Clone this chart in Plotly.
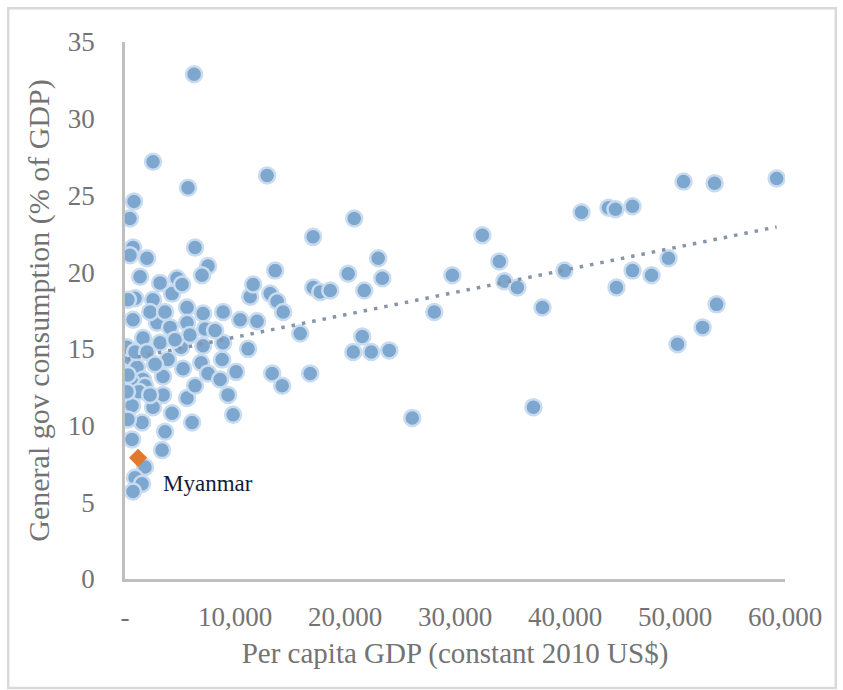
import numpy as np
import plotly.graph_objects as go

# Per capita GDP (constant 2010 US$) and general government consumption (% of GDP)
gdp_per_capita = [
    6280, 2550, 12920, 5730, 820, 450, 17100, 730, 6370, 2000,
    450, 7550, 7000, 1370, 3190, 4730, 4280, 5190, 910, 2550,
    5640, 7100, 8920, 730, 2910, 4100, 5640, 1640, 7280, 10470,
    12010, 11380, 11650, 13650, 13200, 13830, 14380, 17110, 17750, 15930,
    3190, 5100, 7100, 8920, 11190, 3910, 450, 1090, 6920, 8830,
    5280, 1640, 3460, 10100, 7550, 13380, 14290, 16840, 640, 1820,
    3460, 5640, 9370, 640, 2550, 1550, 4280, 6100, 9830, 3640,
    640, 3370, 1820, 910, 1550, 730,
    180, 910, 270, 1270, 180, 2280, 3640, 2000, 5900, 4550,
    2730, 6370, 2280, 8190, 8650, 270, 270,
    20840, 23020, 20290, 23390, 21750, 21570, 20750, 22390, 24020, 18660,
    28120, 29760, 26120, 32490, 34030, 34490, 35670, 37950, 37130, 39950,
    41500, 43950, 44590, 46140, 44680, 46140, 47870, 49410, 50780, 53600,
    59240, 53780, 52510, 50230,
]
gov_consumption = [
    32.9, 27.2, 26.3, 25.5, 24.6, 23.5, 22.3, 21.6, 21.6, 20.9,
    21.1, 20.4, 19.8, 19.7, 19.3, 19.6, 18.6, 19.2, 18.3, 18.2,
    17.7, 17.3, 17.4, 16.9, 16.7, 16.4, 16.7, 15.7, 16.3, 16.9,
    16.8, 18.4, 19.2, 20.1, 18.6, 18.1, 17.4, 19.0, 18.7, 16.0,
    15.4, 15.1, 15.2, 15.4, 15.0, 14.3, 14.4, 13.8, 14.1, 14.3,
    13.7, 13.0, 13.2, 13.5, 13.4, 13.4, 12.6, 13.4, 12.8, 12.6,
    12.0, 11.8, 12.0, 11.3, 11.2, 10.2, 10.8, 10.2, 10.7, 9.6,
    9.1, 8.4, 7.3, 6.6, 6.2, 5.7,
    15.1, 14.8, 13.3, 12.2, 12.2, 17.4, 17.4, 14.8, 15.9, 15.6,
    14.0, 12.6, 12.0, 16.2, 13.0, 18.2, 10.4,
    23.5, 20.9, 19.9, 19.6, 18.8, 15.8, 14.8, 14.8, 14.9, 18.8,
    17.4, 19.8, 10.5, 22.4, 20.7, 19.4, 19.0, 17.7, 11.2, 20.1,
    23.9, 24.2, 24.1, 24.3, 19.0, 20.1, 19.8, 20.9, 25.9, 25.8,
    26.1, 17.9, 16.4, 15.3,
]

# Highlighted country
highlight_name = "Myanmar"
highlight_gdp = [1190]
highlight_gov = [7.9]

# Linear trend: intercept (%) and slope (% per US$)
trend_intercept = 14.3
trend_slope = 1.46 / 10000

x_ticks = [0, 10000, 20000, 30000, 40000, 50000, 60000]
x_tick_text = ["-", "10,000", "20,000", "30,000", "40,000", "50,000", "60,000"]
y_ticks = [0, 5, 10, 15, 20, 25, 30, 35]

FONT = "Liberation Serif"
TEXT_GREY = "#737373"

trend_x = np.array([min(gdp_per_capita), max(gdp_per_capita)])
trend_y = trend_intercept + trend_slope * trend_x

fig = go.Figure()

fig.add_trace(go.Scatter(
    x=gdp_per_capita, y=gov_consumption, mode="markers",
    marker=dict(size=16, color="#7EA7D0",
                line=dict(width=2.5, color="#C9DCEF")),
    showlegend=False, hoverinfo="x+y",
))

fig.add_trace(go.Scatter(
    x=trend_x, y=trend_y, mode="lines",
    line=dict(color="#8795A8", width=3.5, dash="3.5px,7px"),
    showlegend=False, hoverinfo="skip",
))

fig.add_trace(go.Scatter(
    x=highlight_gdp, y=highlight_gov, mode="markers",
    marker=dict(size=14, symbol="diamond", color="#E2792F", line=dict(width=0)),
    showlegend=False, name=highlight_name,
))

fig.add_annotation(
    x=highlight_gdp[0], y=highlight_gov[0], text=highlight_name,
    showarrow=False, xanchor="left", yanchor="middle",
    xshift=23, yshift=-26,
    font=dict(family=FONT, size=23, color="#141B38"),
)

# Outer frame of the chart area
fig.add_shape(type="rect", xref="paper", yref="paper",
              x0=-0.177, x1=1.077, y0=-0.203, y1=1.063,
              line=dict(color="#D9D9D9", width=2.5), layer="below")

fig.update_layout(
    width=843, height=690,
    margin=dict(l=125, r=58, t=42, b=111),
    paper_bgcolor="white", plot_bgcolor="white",
    font=dict(family=FONT, color=TEXT_GREY, size=27),
)

fig.update_xaxes(
    range=[0, 60000], tickvals=x_ticks, ticktext=x_tick_text,
    showgrid=False, zeroline=False,
    showline=True, linecolor="#BFBFBF", linewidth=2.5,
    ticks="", ticklabelstandoff=12,
    tickfont=dict(family=FONT, size=27, color=TEXT_GREY),
    title=dict(text="Per capita GDP (constant 2010 US$)", standoff=12,
               font=dict(family=FONT, size=29, color=TEXT_GREY)),
)

fig.update_yaxes(
    range=[0, 35], tickvals=y_ticks,
    showgrid=False, zeroline=False,
    showline=True, linecolor="#BFBFBF", linewidth=2.5,
    ticks="", ticklabelstandoff=22,
    tickfont=dict(family=FONT, size=27, color=TEXT_GREY),
    title=dict(text="General gov consumption (% of GDP)", standoff=10,
               font=dict(family=FONT, size=30, color=TEXT_GREY)),
)

fig.write_html("out.html")
